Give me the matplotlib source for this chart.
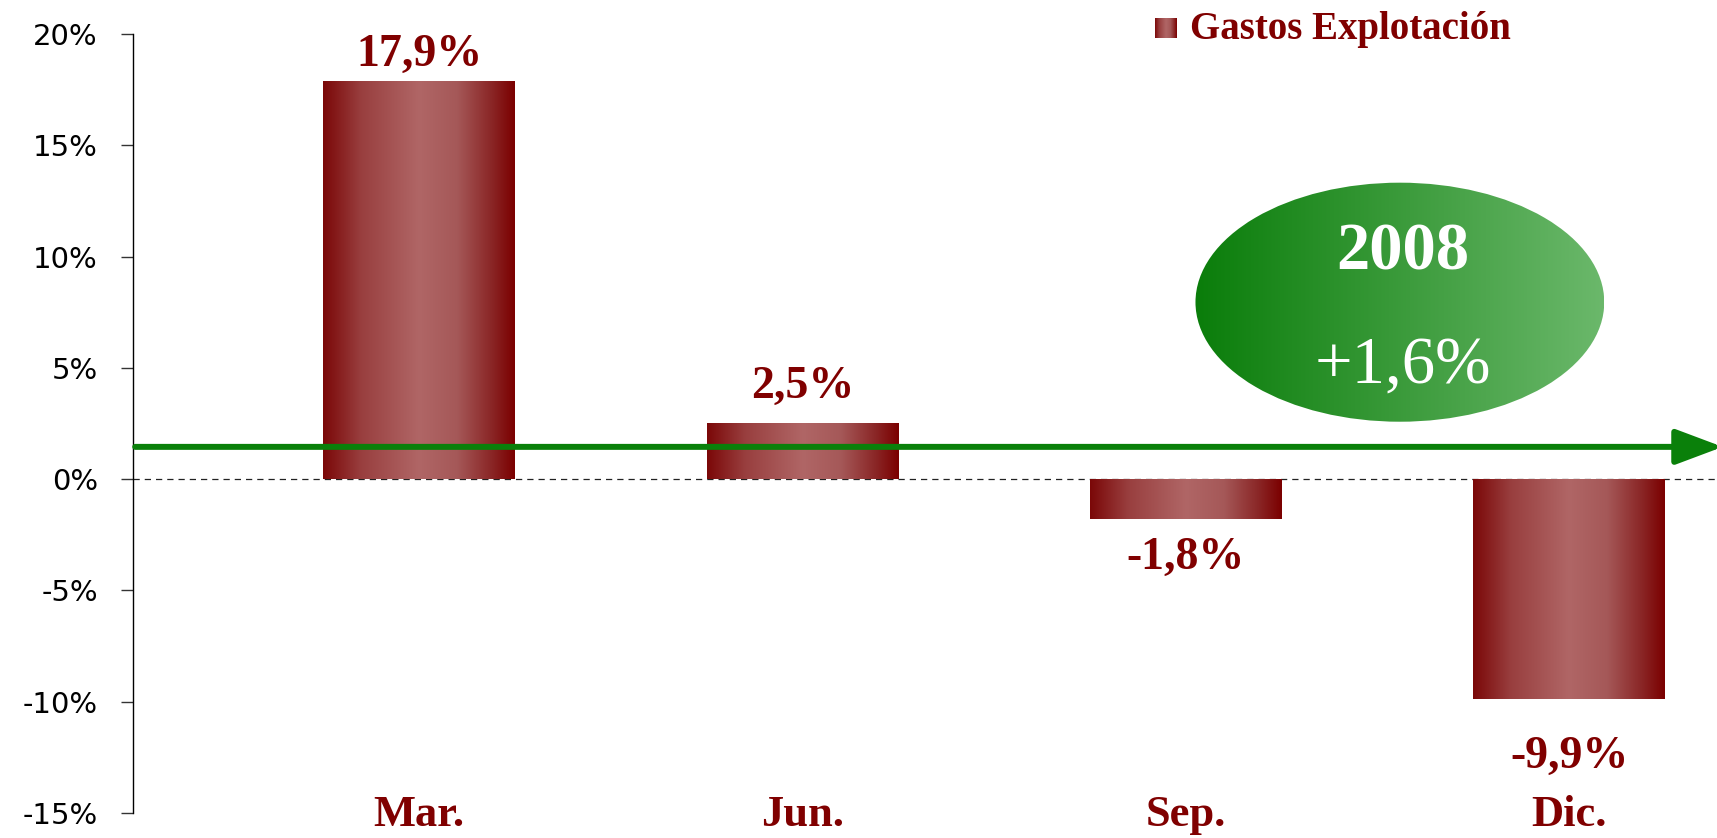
import matplotlib
import numpy as np

matplotlib.use("Agg")
import matplotlib.pyplot as plt
from matplotlib.colors import LinearSegmentedColormap
from matplotlib.patches import Ellipse

# data
quarters = ["Mar.", "Jun.", "Sep.", "Dic."]
values = [17.9, 2.5, -1.8, -9.9]
value_labels = ["17,9%", "2,5%", "-1,8%", "-9,9%"]
series_name = "Gastos Explotación"
year_label = "2008"
year_change_label = "+1,6%"
yticks = [-15, -10, -5, 0, 5, 10, 15, 20]

# styles
dark_red = "#800000"
green = "#0a800a"
serif = ["Liberation Serif", "DejaVu Serif"]
label_gaps_px = [26, 37, 39, 57]

bar_cmap = LinearSegmentedColormap.from_list(
    "bar",
    [(0.0, "#7b0808"), (0.2, "#993f3f"), (0.5, "#b06666"),
     (0.7, "#a55858"), (0.88, "#8a2626"), (1.0, "#7b0000")],
)
ell_cmap = LinearSegmentedColormap.from_list("ell", ["#0a7d0a", "#6bb86b"])
grad = np.linspace(0, 1, 256).reshape(1, -1)

W, H = 1717, 838
fig = plt.figure(figsize=(W / 100, H / 100), dpi=100)
ax = fig.add_axes([132.5 / W, 1 - 813 / H, 1 - 132.5 / W, (813 - 34) / H])

x = np.arange(len(quarters))
ax.set_xlim(-0.747, 3.385)
ax.set_ylim(-15, 20)

bars = ax.bar(x, values, width=0.5, color="none", edgecolor="none")
for b in bars:
    x0, y0 = b.get_x(), b.get_y()
    im = ax.imshow(grad, cmap=bar_cmap, aspect="auto", zorder=2,
                   extent=[x0, x0 + b.get_width(), y0, y0 + b.get_height()])
    im.set_clip_path(b)

ax.axhline(0, color="#222222", lw=0.9, ls=(0, (5, 4)), zorder=1)

for xi, v, lab, gap in zip(x, values, value_labels, label_gaps_px):
    ax.annotate(lab, (xi, v), xytext=(0, gap * 0.72 if v >= 0 else -gap * 0.72),
                textcoords="offset points", ha="center", va="center",
                fontsize=33, fontweight="bold", color=dark_red, family=serif)

for xi, q in zip(x, quarters):
    ax.text(xi, -15.1, q, ha="center", va="center", fontsize=32,
            fontweight="bold", color=dark_red, family=serif)

# summary ellipse
ell = Ellipse((2.558, 7.95), 1.066, 10.74, facecolor="none", edgecolor="none")
ax.add_patch(ell)
im = ax.imshow(grad, cmap=ell_cmap, aspect="auto", zorder=3,
               extent=[2.558 - 0.533, 2.558 + 0.533, 7.95 - 5.37, 7.95 + 5.37])
im.set_clip_path(ell)
ax.text(2.565, 10.15, year_label, ha="center", va="center", fontsize=48,
        fontweight="bold", color="white", family=serif, zorder=4)
ax.text(2.565, 5.1, year_change_label, ha="center", va="center", fontsize=48,
        color="white", family=serif, zorder=4)

ax.annotate("", xy=(3.40, 1.45), xytext=(-0.74, 1.45),
            arrowprops=dict(arrowstyle="-|>,head_length=0.4,head_width=0.15",
                            lw=4.3, color=green, mutation_scale=72,
                            shrinkA=0, shrinkB=0),
            annotation_clip=False, zorder=5)

ax.set_xticks([])
ax.set_yticks(yticks)
ax.set_yticklabels([f"{t}%" for t in yticks], fontsize=21)
ax.tick_params(axis="y", direction="out", length=9, width=1, pad=16,
               color="#333333")
for s in ["top", "right", "bottom"]:
    ax.spines[s].set_visible(False)
ax.spines["left"].set_linewidth(1)
ax.set_xlim(-0.747, 3.385)
ax.set_ylim(-15, 20)

# legend
lax = fig.add_axes([1155 / W, 1 - 38 / H, 22 / W, 20 / H])
lax.imshow(grad, cmap=bar_cmap, aspect="auto")
lax.axis("off")
fig.text(1190 / W, 1 - 29 / H, series_name, ha="left", va="center",
         fontsize=28, fontweight="bold", color=dark_red, family=serif)

fig.savefig("out.png", dpi=100)
